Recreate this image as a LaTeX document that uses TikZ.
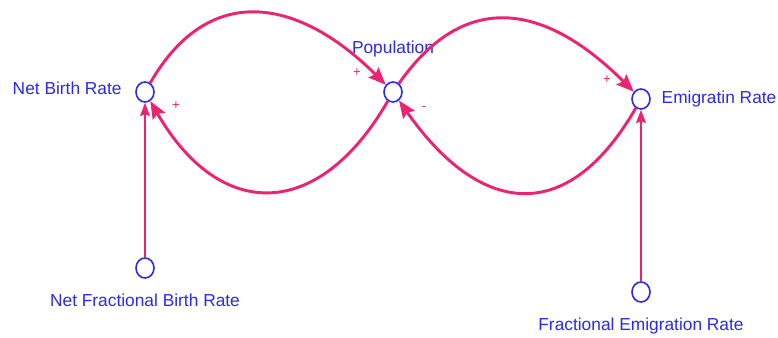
\documentclass[tikz,border=0pt]{standalone}
\usepackage{fontspec}
\setmainfont{Liberation Sans}
\usetikzlibrary{arrows.meta, positioning, shapes.geometric}
\definecolor{linkpink}{HTML}{EC2372}
\definecolor{varblue}{HTML}{2A2AE8}
\begin{document}
\begin{tikzpicture}[x=0.75pt, y=-0.75pt, >=Stealth, node distance=0.18cm,
    var/.style={draw=varblue, line width=1.2pt, ellipse, minimum width=13.5pt,
      minimum height=15pt, inner sep=0pt},
    varname/.style={text=varblue, font=\fontsize{13}{15}\selectfont, inner sep=0pt},
    link/.style={draw=linkpink, line width=2.2pt,
      -{Stealth[length=13pt, width=10.5pt, inset=2pt]}},
    infl/.style={draw=linkpink, line width=1pt,
      -{Stealth[length=10pt, width=7.5pt, inset=1.5pt]}},
    polarity/.style={text=linkpink, font=\fontsize{10}{11}\selectfont, inner sep=0pt}]
  \useasboundingbox (0,0) rectangle (778,338);
  \node[var] (nbr) at (145,92) {};
  \node[var] (pop) at (393,92) {};
  \node[var] (emr) at (641,99) {};
  \node[var] (nfbr) at (145,268) {};
  \node[var] (fer) at (641,292) {};
  \node[varname, left=10pt of nbr, yshift=3pt] (nbrname) {Net Birth Rate};
  \node[varname, above=18pt of pop] (popname) {Population};
  \node[varname, right=8pt of emr] (emrname) {Emigratin Rate};
  \node[varname, below=11pt of nfbr] (nfbrname) {Net Fractional Birth Rate};
  \node[varname, below=11pt of fer] (fername) {Fractional Emigration Rate};
  \draw[link] (nbr) to[out=60, in=135, looseness=1.3] (pop);
  \draw[link] (pop) to[out=-120, in=-60, looseness=1.5] (nbr);
  \draw[link] (pop) to[out=55, in=135, looseness=1.3] (emr);
  \draw[link] (emr) to[out=-120, in=-55, looseness=1.5] (pop);
  \draw[infl] (nfbr) -- (nbr);
  \draw[infl] (fer) -- (emr);
  \node[polarity] (popplus) at (357,73) {+};
  \node[polarity] (nbrplus) at (176,106) {+};
  \node[polarity] (popminus) at (424,108) {-};
  \node[polarity] (emrplus) at (607,80) {+};
\end{tikzpicture}
\end{document}
